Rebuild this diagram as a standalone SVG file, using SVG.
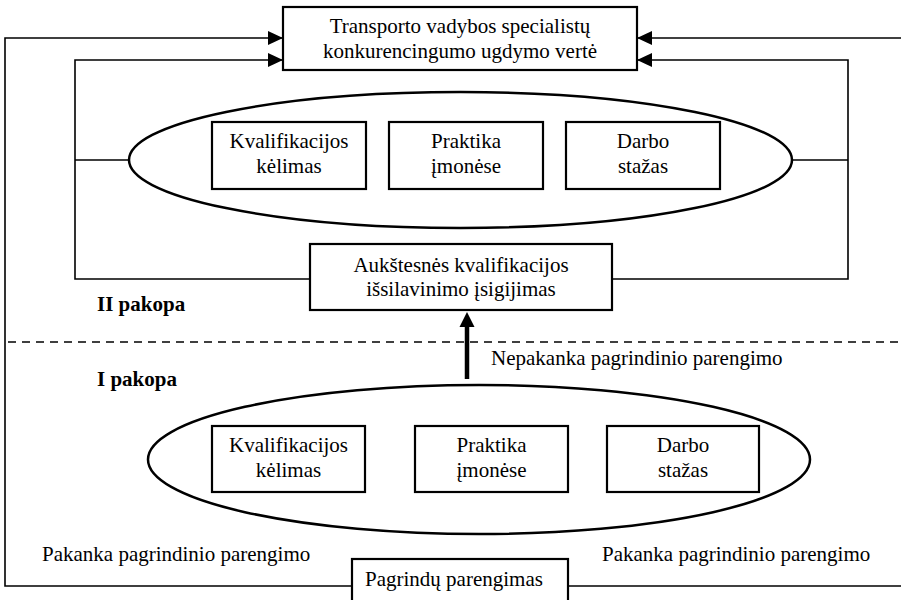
<svg xmlns="http://www.w3.org/2000/svg" width="901" height="600" viewBox="0 0 901 600">
  <defs>
    <marker id="arrowR" viewBox="0 0 15 14" refX="15" refY="7" markerWidth="15" markerHeight="14" markerUnits="userSpaceOnUse" orient="auto">
      <path d="M0,0 L15,7 L0,14 Z" fill="#000"/>
    </marker>
    <marker id="arrowUp" viewBox="0 0 15 15" refX="15" refY="7.5" markerWidth="15" markerHeight="15" markerUnits="userSpaceOnUse" orient="auto">
      <path d="M0,0 L15,7.5 L0,15 Z" fill="#000"/>
    </marker>
  </defs>
  <style>
    .box { fill: #fff; stroke: #000; stroke-width: 2.2; }
    .oval { fill: none; stroke: #000; stroke-width: 2.5; }
    .wire { fill: none; stroke: #000; stroke-width: 1.6; }
    .t { font-family: "Liberation Serif", "Times New Roman", serif; font-size: 21px; fill: #000; }
    .c { text-anchor: middle; }
    .b { font-weight: bold; }
  </style>
  <rect width="901" height="600" fill="#fff"/>

  <!-- connectors -->
  <g id="connectors">
    <!-- outer loop from the base box back to the goal -->
    <path class="wire" d="M352,586 L5,586 L5,38 L283,38" marker-end="url(#arrowR)" stroke-width="2"/>
    <path class="wire" d="M568,586 L901,586"/>
    <path class="wire" d="M901,38 L637,38" marker-end="url(#arrowR)"/>
    <!-- level II loop -->
    <path class="wire" d="M310,279 L75,279 L75,60 L283,60" marker-end="url(#arrowR)"/>
    <path class="wire" d="M612,279 L848,279 L848,60 L637,60" marker-end="url(#arrowR)"/>
    <path class="wire" d="M75,160 L129,160"/>
    <path class="wire" d="M792,160 L848,160"/>
    <!-- level divider -->
    <path class="wire" d="M8,342 L901,342" stroke-dasharray="8,6" stroke-width="1.6"/>
    <!-- thick upward arrow -->
    <path d="M467,379 L467,326" stroke="#000" stroke-width="4.5" fill="none"/>
    <path d="M467,312 L474.5,327 L459.5,327 Z" fill="#000"/>
  </g>

  <!-- goal -->
  <g id="goal">
    <rect class="box" x="283" y="7" width="354" height="63"/>
    <text class="t c" x="460" y="33">Transporto vadybos specialistų</text>
    <text class="t c" x="460" y="58">konkurencingumo ugdymo vertė</text>
  </g>

  <!-- level II -->
  <g id="level2-oval">
    <ellipse class="oval" cx="460.5" cy="160" rx="331.5" ry="68"/>
  </g>
  <g id="level2-qualification">
    <rect class="box" x="212" y="122" width="154" height="67"/>
    <text class="t c" x="289" y="148">Kvalifikacijos</text>
    <text class="t c" x="289" y="173">kėlimas</text>
  </g>
  <g id="level2-practice">
    <rect class="box" x="389" y="122" width="154" height="67"/>
    <text class="t c" x="466" y="148">Praktika</text>
    <text class="t c" x="466" y="173">įmonėse</text>
  </g>
  <g id="level2-experience">
    <rect class="box" x="566" y="122" width="154" height="67"/>
    <text class="t c" x="643" y="148">Darbo</text>
    <text class="t c" x="643" y="173">stažas</text>
  </g>
  <g id="higher-education">
    <rect class="box" x="310" y="244" width="302" height="66"/>
    <text class="t c" x="461" y="272">Aukštesnės kvalifikacijos</text>
    <text class="t c" x="461" y="296">išsilavinimo įsigijimas</text>
  </g>
  <g id="level2-label">
    <text class="t b" x="97" y="311">II pakopa</text>
  </g>

  <g id="insufficient-label">
    <text class="t" x="491" y="365">Nepakanka pagrindinio parengimo</text>
  </g>

  <!-- level I -->
  <g id="level1-label">
    <text class="t b" x="97" y="386">I pakopa</text>
  </g>
  <g id="level1-oval">
    <ellipse class="oval" cx="479" cy="459.5" rx="331" ry="74.5"/>
  </g>
  <g id="level1-qualification">
    <rect class="box" x="212" y="426" width="153" height="66"/>
    <text class="t c" x="288.5" y="452">Kvalifikacijos</text>
    <text class="t c" x="288.5" y="477">kėlimas</text>
  </g>
  <g id="level1-practice">
    <rect class="box" x="415" y="426" width="153" height="66"/>
    <text class="t c" x="491.5" y="452">Praktika</text>
    <text class="t c" x="491.5" y="477">įmonėse</text>
  </g>
  <g id="level1-experience">
    <rect class="box" x="607" y="426" width="152" height="66"/>
    <text class="t c" x="683" y="452">Darbo</text>
    <text class="t c" x="683" y="477">stažas</text>
  </g>

  <g id="sufficient-labels">
    <text class="t" x="42" y="561">Pakanka pagrindinio parengimo</text>
    <text class="t" x="602" y="561">Pakanka pagrindinio parengimo</text>
  </g>

  <g id="base">
    <rect class="box" x="352" y="559" width="216" height="50"/>
    <text class="t" x="365" y="586">Pagrindų parengimas</text>
  </g>
</svg>
